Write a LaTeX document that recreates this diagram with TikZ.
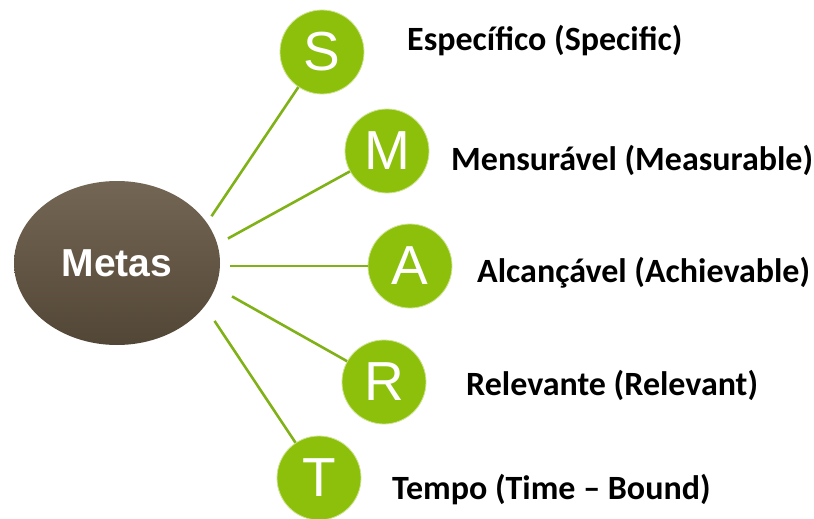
\documentclass[tikz,border=0pt]{standalone}
\usepackage{fontspec}
\setmainfont{Carlito}
\newfontfamily\arialfont{Liberation Sans}
\usetikzlibrary{shapes.geometric}

\definecolor{smartgreen}{RGB}{141,192,11}
\definecolor{linegreen}{RGB}{128,178,24}
\definecolor{metastop}{RGB}{116,102,84}
\definecolor{metasbot}{RGB}{82,70,54}

\tikzset{
  letter/.style={circle, fill=smartgreen, draw=smartgreen!45!white, line width=0.8pt,
    minimum size=84pt, inner sep=0pt, text=white, font=\arialfont\fontsize{55}{55}\selectfont},
  meaning/.style={anchor=west, inner sep=0pt, font=\bfseries\fontsize{34}{36}\selectfont},
  spoke/.style={linegreen, line width=2.6pt}
}

\begin{document}
\begin{tikzpicture}[x=1pt,y=-1pt]
  \useasboundingbox (0,0) rectangle (814,519);

  % Metas
  \node[ellipse, minimum width=206pt, minimum height=164pt, top color=metastop, bottom color=metasbot,
        text=white, font=\arialfont\bfseries\fontsize{39}{39}\selectfont] (metas) at (117,263) {Metas};
  \coordinate (hub) at (178,266);

  % S M A R T
  \node[letter] (s) at (322,52)  {S};
  \node[letter] (m) at (387,151) {M};
  \node[letter] (a) at (410,266) {A};
  \node[letter] (r) at (384,382) {R};
  \node[letter] (t) at (319,478) {T};

  \foreach \n/\d in {s/60,m/57,a/52,r/62,t/66}
    \draw[spoke, shorten <=\d pt] (hub) -- (\n);

  \node[meaning] (ls) at (407,41)  {Específico (Specific)};
  \node[meaning] (lm) at (451,160) {Mensurável (Measurable)};
  \node[meaning] (la) at (477,273) {Alcançável (Achievable)};
  \node[meaning] (lr) at (466,385) {Relevante (Relevant)};
  \node[meaning] (lt) at (392,490) {Tempo (Time -- Bound)};
\end{tikzpicture}
\end{document}
